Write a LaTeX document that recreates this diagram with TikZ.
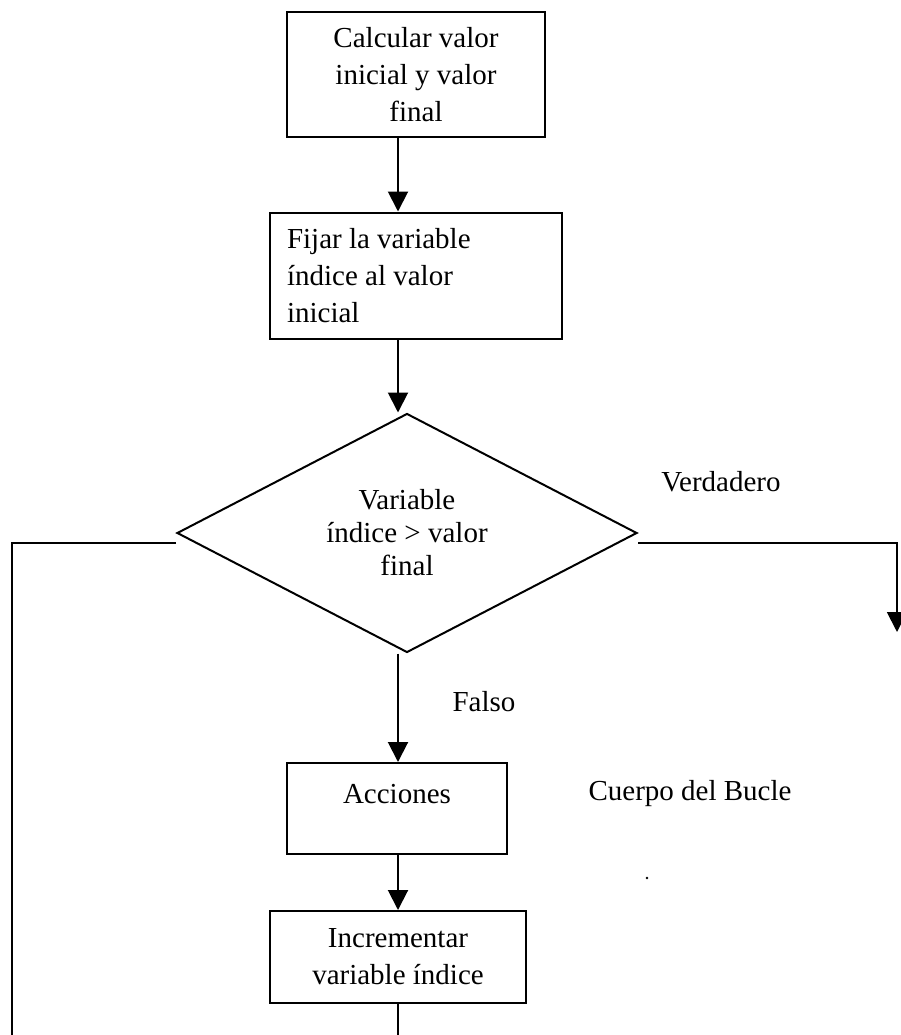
\documentclass[tikz,border=0pt]{standalone}
\usepackage{fontspec}
\setmainfont{Liberation Serif}
\usetikzlibrary{arrows.meta,shapes.geometric}
\begin{document}
\begin{tikzpicture}[x=1pt,y=-1pt,
  box/.style={draw, line width=2pt, inner sep=0pt, font=\fontsize{29}{37}\selectfont},
  txt/.style={inner sep=0pt, font=\fontsize{29}{37}\selectfont},
  arr/.style={line width=2pt, -{Triangle[width=20pt,length=20pt]}},
  ln/.style={line width=2pt}]
\useasboundingbox (0,0) rectangle (901,1035);
\fill[white] (0,0) rectangle (901,1035);
\coordinate (col) at (398,0);
\node[box, minimum width=258pt, minimum height=125pt, align=center] (b1) at (416,74.5)
  {Calcular valor\\inicial y valor\\final};
\node[box, minimum width=292pt, minimum height=126pt, text width=258pt, align=flush left] (b2) at (416,275.5)
  {Fijar la variable\\índice al valor\\inicial};
\node[draw, diamond, line width=2pt, aspect=2, inner sep=0pt, minimum width=460pt, minimum height=239pt,
  align=center, font=\fontsize{29}{33}\selectfont] (d) at (407,533)
  {Variable\\índice > valor\\final};
\node[box, minimum width=220pt, minimum height=91pt] (acc) at (397,808.5) {};
\node[txt] (acct) at (397,794) {Acciones};
\node[box, minimum width=256pt, minimum height=92pt, align=center] (b4) at (398,957)
  {Incrementar\\variable índice};
\node[txt] (verd) at (721,482) {Verdadero};
\node[txt] (fal) at (484,702) {Falso};
\node[txt] (cuer) at (690,794) {Cuerpo del Bucle};
\fill (647,878) circle (1.3pt);
\coordinate (lb) at (12,1035);
\coordinate (rt) at (897,632);
\coordinate (bot) at (398,1035);
\draw[arr] (b1.south -| col) -- (b2.north -| col);
\draw[arr] (b2.south -| col) -- (d.north -| col);
\draw[arr] (d.south -| col) -- (acc.north -| col);
\draw[arr] (acc.south -| col) -- (b4.north -| col);
\draw[ln] (b4.south -| col) -- (bot);
\draw[ln] ([yshift=-10pt]d.west) -| (lb);
\draw[arr] ([yshift=-10pt]d.east) -| (rt);
\end{tikzpicture}
\end{document}
